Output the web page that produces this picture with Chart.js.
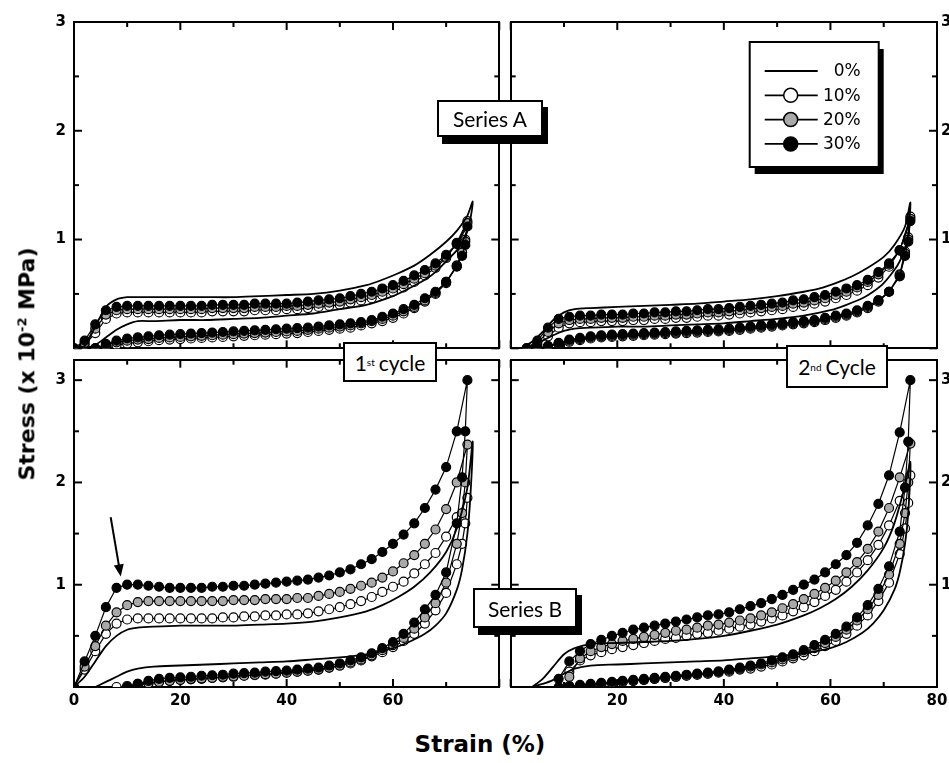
<!DOCTYPE html>
<html>
<head>
<meta charset="utf-8">
<title>Stress vs strain</title>
<script src="https://cdn.jsdelivr.net/npm/chart.js@4.4.1/dist/chart.umd.min.js"></script>
<style>
  body { margin: 0; background: #fff; }
  #page { position: relative; width: 949px; height: 763px; overflow: hidden; background: #fff; }
  #page canvas { position: absolute; }
  .tag { position: absolute; box-sizing: border-box; border: 2px solid #000; background: #fff;
         font: 21px Lato, "Open Sans", sans-serif; color: #000; display: flex; align-items: center; justify-content: center; }
  .tag sup { font-size: 10px; margin-right: 4px; }
  .shadow { box-shadow: 5px 7px 0 #000; }
  .title { position: absolute; white-space: nowrap; font: bold 22px "DejaVu Sans", sans-serif; color: #000; }
  .title sup { font-size: 13px; }
</style>
</head>
<body>
<div id="page">
  <canvas id="a1" width="505" height="354" style="left:0;top:0"></canvas>
  <canvas id="a2" width="444" height="354" style="left:505px;top:0"></canvas>
  <canvas id="b1" width="505" height="366" style="left:0;top:354px"></canvas>
  <canvas id="b2" width="444" height="366" style="left:505px;top:354px"></canvas>

  <div class="tag shadow" style="left:437px;top:100px;width:106px;height:37px">Series A</div>
  <div class="tag" style="left:343px;top:342px;width:94px;height:40px">1<sup>st</sup>cycle</div>
  <div class="tag" style="left:786px;top:345px;width:102px;height:43px">2<sup>nd</sup>Cycle</div>
  <div class="tag shadow" style="left:473px;top:588px;width:104px;height:40px">Series B</div>

  <div class="title" style="left:27px;top:364px;transform:translate(-50%,-50%) rotate(-90deg)">Stress (x 10<sup>-2</sup> MPa)</div>
  <div class="title" style="left:480px;top:744px;transform:translate(-50%,-50%);font-size:23px">Strain (%)</div>
</div>
<script>
// strain grids (%)
const strainUp1 = [0,2,4,6,8,10,12,14,16,18,20,22,24,26,28,30,32,34,36,38,40,42,44,46,48,50,52,54,56,58,60,62,64,66,68,70,72,74];
const strainDn1 = [73.6,73,72,70,68,66,64,62,60,58,56,54,52,50,48,46,44,42,40,38,36,34,32,30,28,26,24,22,20,18,16,14,12,10,8,6,4,2,0];
const strainUp2 = [1,3,5,7,9,11,13,15,17,19,21,23,25,27,29,31,33,35,37,39,41,43,45,47,49,51,53,55,57,59,61,63,65,67,69,71,73,75];
const strainDn2 = [74.6,74,73,71,69,67,65,63,61,59,57,55,53,51,49,47,45,43,41,39,37,35,33,31,29,27,25,23,21,19,17,15,13,11,9,7,5,3,1];
const strain0Up = [0,2,4,6,8,10,12,15,20,25,30,35,40,45,50,55,58,61,64,67,70,72,74,75];
const strain0Dn = [74.6,74,73,72,70,68,66,63,60,55,50,45,40,35,30,25,20,15,12,10,8,6,4,2];

const seriesNames = ["0%", "10%", "20%", "30%"];

const xTicks = [0,10,20,30,40,50,60,70,80];
const yTicks = [0,0.5,1,1.5,2,2.5,3];
const yLabels = [1,2,3];
const xLabelsLeft = [0,20,40,60];
const xLabelsRight = [20,40,60,80];
const xMajor = [0,20,40,60,80];
const yMajor = [0,1,2,3];

// Series A, 1st cycle (stress x 10^-2 MPa)
const a1Up0 = [0,0.02,0.2,0.38,0.45,0.47,0.47,0.47,0.47,0.47,0.47,0.48,0.49,0.5,0.53,0.58,0.63,0.69,0.76,0.86,0.98,1.08,1.22,1.35];
const a1Dn0 = [1.2,1.08,0.98,0.9,0.8,0.7,0.63,0.55,0.48,0.4,0.36,0.32,0.3,0.28,0.27,0.26,0.26,0.25,0.25,0.22,0.17,0.1,0.03,0];
const a1Up10 = [0,0.03,0.14,0.27,0.32,0.33,0.33,0.33,0.33,0.33,
  0.33,0.33,0.33,0.34,0.34,0.34,0.34,0.35,0.35,0.35,
  0.36,0.36,0.37,0.38,0.39,0.4,0.42,0.44,0.46,0.49,
  0.52,0.56,0.61,0.67,0.74,0.83,0.97,1.17];
const a1Dn10 = [1.0,0.88,0.76,0.6,0.5,0.43,0.37,0.32,0.28,0.25,
  0.23,0.21,0.19,0.18,0.17,0.16,0.15,0.14,0.135,0.13,
  0.125,0.12,0.115,0.11,0.105,0.1,0.095,0.09,0.085,0.08,
  0.075,0.065,0.055,0.045,0.03,0.01,0,null,null];
const a1Up20 = [0,0.05,0.18,0.31,0.35,0.36,0.36,0.36,0.36,0.36,
  0.36,0.36,0.36,0.37,0.37,0.37,0.37,0.38,0.38,0.38,
  0.39,0.39,0.4,0.41,0.42,0.43,0.45,0.47,0.49,0.52,
  0.55,0.59,0.64,0.69,0.76,0.84,0.96,1.15];
const a1Dn20 = [0.98,0.88,0.76,0.61,0.51,0.44,0.38,0.34,0.3,0.27,
  0.25,0.23,0.21,0.2,0.19,0.18,0.17,0.16,0.155,0.15,
  0.145,0.14,0.135,0.13,0.125,0.12,0.115,0.11,0.105,0.1,
  0.095,0.085,0.08,0.07,0.055,0.03,0,null,null];
const a1Up30 = [0,0.07,0.22,0.35,0.38,0.39,0.39,0.39,0.39,0.39,
  0.39,0.39,0.39,0.4,0.4,0.4,0.4,0.41,0.41,0.41,
  0.41,0.42,0.43,0.44,0.45,0.46,0.48,0.5,0.52,0.55,
  0.58,0.62,0.67,0.72,0.78,0.86,0.96,1.12];
const a1Dn30 = [0.95,0.85,0.75,0.61,0.52,0.46,0.4,0.36,0.32,0.29,
  0.26,0.24,0.23,0.22,0.21,0.2,0.19,0.185,0.18,0.175,
  0.17,0.165,0.16,0.155,0.15,0.145,0.14,0.135,0.13,0.125,
  0.12,0.11,0.1,0.09,0.07,0.04,0,null,null];

// Series A, 2nd cycle
const a2Up0 = [null,0,0.06,0.15,0.26,0.33,0.36,0.37,0.38,0.39,0.4,0.41,0.43,0.45,0.48,0.52,0.55,0.6,0.66,0.74,0.84,0.95,1.12,1.34];
const a2Dn0 = [1.05,0.92,0.8,0.72,0.6,0.52,0.46,0.4,0.35,0.3,0.27,0.25,0.23,0.22,0.21,0.2,0.2,0.19,0.18,0.16,0.12,0.07,0.02,0];
const a2Up10 = [null,0,0.03,0.11,0.19,0.23,0.24,0.24,0.25,0.25,
  0.25,0.26,0.26,0.27,0.27,0.28,0.28,0.29,0.3,0.3,
  0.31,0.32,0.33,0.34,0.35,0.36,0.38,0.39,0.41,0.43,
  0.46,0.49,0.53,0.58,0.65,0.75,0.9,1.21];
const a2Dn10 = [1.02,0.89,0.68,0.52,0.43,0.37,0.33,0.3,0.28,0.26,
  0.24,0.23,0.22,0.21,0.2,0.19,0.18,0.17,0.16,0.155,
  0.15,0.145,0.14,0.135,0.13,0.125,0.12,0.115,0.11,0.105,
  0.1,0.09,0.075,0.06,0.04,0.015,0,null,null];
const a2Up20 = [null,0,0.05,0.15,0.23,0.26,0.27,0.27,0.28,0.28,
  0.28,0.29,0.29,0.3,0.3,0.31,0.31,0.32,0.33,0.33,
  0.34,0.35,0.36,0.37,0.38,0.39,0.41,0.42,0.44,0.46,
  0.49,0.52,0.56,0.61,0.68,0.77,0.9,1.19];
const a2Dn20 = [1.0,0.87,0.67,0.52,0.44,0.38,0.34,0.31,0.29,0.27,
  0.25,0.24,0.23,0.22,0.21,0.2,0.19,0.18,0.17,0.165,
  0.16,0.155,0.15,0.145,0.14,0.135,0.13,0.125,0.12,0.115,
  0.11,0.1,0.085,0.07,0.045,0.02,0,null,null];
const a2Up30 = [null,0,0.07,0.19,0.27,0.29,0.3,0.3,0.31,0.31,
  0.31,0.32,0.32,0.33,0.33,0.34,0.34,0.35,0.36,0.36,
  0.37,0.38,0.39,0.4,0.41,0.42,0.44,0.45,0.47,0.49,
  0.52,0.55,0.58,0.63,0.7,0.78,0.9,1.17];
const a2Dn30 = [0.98,0.85,0.66,0.52,0.44,0.39,0.35,0.32,0.3,0.28,
  0.26,0.25,0.24,0.23,0.22,0.21,0.2,0.19,0.18,0.175,
  0.17,0.165,0.16,0.155,0.15,0.145,0.14,0.135,0.13,0.125,
  0.12,0.11,0.095,0.08,0.05,0.02,0,null,null];

// Series B, 1st cycle
const b1Up0 = [0,0.1,0.25,0.4,0.5,0.56,0.58,0.59,0.6,0.6,0.6,0.61,0.62,0.64,0.68,0.74,0.8,0.88,0.98,1.12,1.32,1.55,1.95,2.4];
const b1Dn0 = [1.9,1.5,1.15,0.95,0.72,0.6,0.52,0.44,0.38,0.32,0.29,0.27,0.25,0.24,0.23,0.22,0.21,0.2,0.18,0.15,0.1,0.05,0,null];
const b1Up10 = [0,0.17,0.35,0.52,0.62,0.66,0.67,0.67,0.67,0.67,
  0.67,0.67,0.67,0.67,0.68,0.68,0.69,0.69,0.7,0.7,
  0.71,0.71,0.72,0.74,0.76,0.78,0.81,0.84,0.88,0.93,
  0.98,1.03,1.11,1.2,1.31,1.47,1.66,1.85];
const b1Dn10 = [1.6,1.4,1.2,0.92,0.75,0.62,0.52,0.45,0.39,0.34,
  0.3,0.26,0.23,0.21,0.19,0.17,0.16,0.15,0.14,0.13,
  0.12,0.115,0.11,0.1,0.095,0.09,0.08,0.075,0.07,0.06,
  0.05,0.04,0.03,0.01,0,null,null,null,null];
const b1Up20 = [0,0.2,0.4,0.6,0.73,0.8,0.83,0.84,0.84,0.84,
  0.84,0.84,0.84,0.84,0.84,0.85,0.85,0.85,0.86,0.86,
  0.86,0.87,0.87,0.89,0.91,0.93,0.96,0.99,1.02,1.07,
  1.13,1.21,1.29,1.4,1.54,1.74,2.0,2.37];
const b1Dn20 = [2.0,1.7,1.4,1.02,0.82,0.68,0.57,0.48,0.41,0.36,
  0.31,0.27,0.24,0.21,0.19,0.17,0.16,0.15,0.14,0.13,
  0.125,0.12,0.11,0.105,0.1,0.09,0.085,0.08,0.07,0.06,
  0.05,0.035,0.015,0,null,null,null,null,null];
const b1Up30 = [0,0.25,0.5,0.78,0.97,1.0,1.0,0.99,0.98,0.97,
  0.97,0.97,0.97,0.98,0.98,0.99,0.99,1.0,1.01,1.02,
  1.03,1.04,1.05,1.07,1.09,1.12,1.15,1.2,1.25,1.32,
  1.4,1.49,1.6,1.75,1.93,2.15,2.5,3.0];
const b1Dn30 = [2.5,2.05,1.6,1.12,0.9,0.76,0.63,0.52,0.44,0.38,
  0.33,0.29,0.26,0.23,0.21,0.19,0.18,0.17,0.16,0.155,
  0.15,0.14,0.135,0.13,0.12,0.115,0.11,0.1,0.095,0.09,
  0.08,0.06,0.03,0,null,null,null,null,null];

// Series B, 2nd cycle
const b2Up0 = [null,null,0,0.08,0.2,0.32,0.38,0.42,0.43,0.44,0.45,0.47,0.5,0.55,0.61,0.7,0.77,0.86,0.98,1.14,1.36,1.6,1.97,2.2];
const b2Dn0 = [1.7,1.4,1.12,0.95,0.75,0.62,0.53,0.44,0.38,0.33,0.3,0.28,0.26,0.25,0.24,0.23,0.22,0.21,0.18,0.13,0.07,0.03,0,null];
const b2Up10 = [null,null,null,null,null,0.15,0.26,0.31,0.34,0.37,
  0.39,0.41,0.43,0.45,0.47,0.48,0.5,0.52,0.53,0.55,
  0.57,0.59,0.61,0.64,0.67,0.7,0.74,0.78,0.83,0.89,
  0.95,1.03,1.12,1.24,1.39,1.58,1.82,2.07];
const b2Dn10 = [1.8,1.55,1.3,1.02,0.84,0.7,0.6,0.52,0.45,0.4,
  0.35,0.31,0.28,0.25,0.22,0.2,0.18,0.17,0.15,0.14,
  0.13,0.12,0.11,0.1,0.09,0.08,0.07,0.06,0.05,0.04,
  0.03,0.02,0.01,0,null,null,null,null,null];
const b2Up20 = [null,null,null,null,null,0.1,0.28,0.35,0.39,0.42,
  0.45,0.47,0.49,0.51,0.53,0.55,0.56,0.58,0.6,0.61,
  0.63,0.65,0.67,0.7,0.73,0.77,0.81,0.86,0.91,0.97,
  1.04,1.12,1.22,1.35,1.52,1.75,2.05,2.38];
const b2Dn20 = [2.0,1.7,1.4,1.1,0.9,0.76,0.65,0.56,0.49,0.43,
  0.38,0.34,0.3,0.27,0.24,0.22,0.2,0.18,0.16,0.15,
  0.13,0.12,0.11,0.1,0.09,0.08,0.07,0.06,0.05,0.04,
  0.03,0.02,0.01,0,null,null,null,null,null];
const b2Up30 = [null,null,null,null,0.08,0.25,0.35,0.42,0.46,0.5,
  0.53,0.56,0.58,0.6,0.62,0.64,0.66,0.68,0.7,0.71,
  0.73,0.76,0.79,0.82,0.86,0.9,0.95,1.0,1.05,1.12,
  1.2,1.29,1.41,1.58,1.79,2.07,2.49,3.0];
const b2Dn30 = [2.4,1.95,1.52,1.18,0.96,0.8,0.68,0.59,0.52,0.46,
  0.41,0.36,0.32,0.29,0.26,0.23,0.21,0.19,0.17,0.15,
  0.14,0.13,0.12,0.11,0.1,0.09,0.08,0.07,0.06,0.05,
  0.04,0.03,0.02,0.01,0,null,null,null,null];

// arrow in the Series B 1st cycle panel (strain, stress)
const arrowFrom = [6.9, 1.66];
const arrowTo = [8.8, 1.08];

const tickFont = { family: "DejaVu Sans", size: 15, weight: "bold" };

// join loading and unloading branch into one loop
function loop(upX, up, dnX, dn) {
  const pts = [];
  up.forEach((v, i) => { if (v !== null) pts.push({ x: upX[i], y: v }); });
  dn.forEach((v, i) => { if (v !== null) pts.push({ x: dnX[i], y: v }); });
  return pts;
}

function markerSet(label, fill, order, pts) {
  return {
    label, data: pts, order,
    borderColor: "#000", borderWidth: 1.2, tension: 0,
    pointRadius: 4.5, pointBorderWidth: 1.2,
    pointBackgroundColor: fill, pointBorderColor: "#000"
  };
}

function datasets(cyc, s) {
  const upX = cyc === 1 ? strainUp1 : strainUp2;
  const dnX = cyc === 1 ? strainDn1 : strainDn2;
  return [
    { label: seriesNames[0], data: loop(strain0Up, s[0], strain0Dn, s[1]), order: 0,
      borderColor: "#000", borderWidth: 1.8, tension: 0.25, pointRadius: 0 },
    markerSet(seriesNames[1], "#fff", 3, loop(upX, s[2], dnX, s[3])),
    markerSet(seriesNames[2], "#a9a9a9", 2, loop(upX, s[4], dnX, s[5])),
    markerSet(seriesNames[3], "#000", 1, loop(upX, s[6], dnX, s[7]))
  ];
}

function axis(position, min, max, ticks, shown, size, pad) {
  const horiz = position === "top" || position === "bottom";
  return {
    type: "linear", position, min, max,
    afterBuildTicks: s => { s.ticks = ticks.map(v => ({ value: v })); },
    afterFit: s => {
      if (horiz) s.height = size; else s.width = size;
      s.paddingLeft = s.paddingRight = s.paddingTop = s.paddingBottom = 0;
    },
    grid: { display: false, drawTicks: false },
    border: { display: true, color: "#000", width: 2 },
    ticks: {
      display: shown.length > 0, autoSkip: false, maxRotation: 0, padding: pad,
      color: "#000", font: tickFont,
      callback: v => shown.includes(v) ? String(v) : ""
    }
  };
}

// tick marks pointing into the plot on all four sides
const innerTicks = {
  id: "innerTicks",
  beforeDatasetsDraw(chart) {
    const ctx = chart.ctx;
    ctx.save();
    ctx.strokeStyle = "#000";
    ctx.lineWidth = 2;
    Object.values(chart.scales).forEach(s => {
      const major = s.isHorizontal() ? xMajor : yMajor;
      s.ticks.forEach(t => {
        const p = s.getPixelForValue(t.value);
        const len = major.includes(t.value) ? 8 : 5;
        ctx.beginPath();
        if (s.position === "left") { ctx.moveTo(s.right, p); ctx.lineTo(s.right + len, p); }
        else if (s.position === "right") { ctx.moveTo(s.left, p); ctx.lineTo(s.left - len, p); }
        else if (s.position === "bottom") { ctx.moveTo(p, s.top); ctx.lineTo(p, s.top - len); }
        else { ctx.moveTo(p, s.bottom); ctx.lineTo(p, s.bottom + len); }
        ctx.stroke();
      });
    });
    ctx.restore();
  }
};

const legendPlugin = {
  id: "boxLegend",
  afterDraw(chart) {
    const { ctx, chartArea } = chart;
    const bx = chartArea.left + 239, by = chartArea.top + 20, w = 129, h = 125;
    ctx.save();
    ctx.fillStyle = "#000";
    ctx.fillRect(bx + 5, by + 7, w, h);
    ctx.fillStyle = "#fff";
    ctx.fillRect(bx, by, w, h);
    ctx.strokeStyle = "#000";
    ctx.lineWidth = 2;
    ctx.strokeRect(bx, by, w, h);
    chart.data.datasets.forEach((ds, i) => {
      const y = by + 29 + i * 24.3;
      ctx.strokeStyle = "#000";
      ctx.lineWidth = 1.8;
      ctx.beginPath(); ctx.moveTo(bx + 15, y); ctx.lineTo(bx + 68, y); ctx.stroke();
      if (ds.pointRadius > 0) {
        ctx.beginPath(); ctx.arc(bx + 41, y, 7, 0, Math.PI * 2);
        ctx.fillStyle = ds.pointBackgroundColor; ctx.fill();
        ctx.lineWidth = 1.5; ctx.stroke();
      }
      ctx.fillStyle = "#000";
      ctx.font = '17px "DejaVu Sans"';
      ctx.textAlign = "right";
      ctx.textBaseline = "middle";
      ctx.fillText(ds.label, bx + 111, y + 1);
    });
    ctx.restore();
  }
};

const arrowPlugin = {
  id: "arrow",
  afterDatasetsDraw(chart) {
    const { ctx, scales } = chart;
    const x0 = scales.x.getPixelForValue(arrowFrom[0]), y0 = scales.y.getPixelForValue(arrowFrom[1]);
    const x1 = scales.x.getPixelForValue(arrowTo[0]), y1 = scales.y.getPixelForValue(arrowTo[1]);
    const a = Math.atan2(y1 - y0, x1 - x0);
    ctx.save();
    ctx.strokeStyle = "#000"; ctx.fillStyle = "#000"; ctx.lineWidth = 2;
    ctx.beginPath(); ctx.moveTo(x0, y0);
    ctx.lineTo(x1 - 9 * Math.cos(a), y1 - 9 * Math.sin(a)); ctx.stroke();
    ctx.beginPath(); ctx.moveTo(x1, y1);
    ctx.lineTo(x1 - 12 * Math.cos(a) + 5 * Math.sin(a), y1 - 12 * Math.sin(a) - 5 * Math.cos(a));
    ctx.lineTo(x1 - 12 * Math.cos(a) - 5 * Math.sin(a), y1 - 12 * Math.sin(a) + 5 * Math.cos(a));
    ctx.closePath(); ctx.fill();
    ctx.restore();
  }
};

function panel(id, cyc, series, o) {
  return new Chart(document.getElementById(id), {
    type: "line",
    data: { datasets: datasets(cyc, series) },
    options: {
      responsive: false, animation: false, events: [],
      layout: { padding: o.pad },
      plugins: { legend: { display: false }, tooltip: { enabled: false } },
      scales: {
        x: axis("bottom", 0, 80, xTicks, o.xLab, o.xh, 5),
        x2: axis("top", 0, 80, xTicks, [], 0, 0),
        y: axis("left", 0, o.ymax, yTicks, o.leftLab, o.lw, 8),
        y2: axis("right", 0, o.ymax, yTicks, o.rightLab, o.rw, 4)
      }
    },
    plugins: [innerTicks].concat(o.plugins || [])
  });
}

panel("a1", 1, [a1Up0, a1Dn0, a1Up10, a1Dn10, a1Up20, a1Dn20, a1Up30, a1Dn30],
  { pad: { top: 22, right: 3 }, ymax: 3, xLab: [], xh: 2, leftLab: yLabels, lw: 74, rightLab: [], rw: 0 });
panel("a2", 2, [a2Up0, a2Dn0, a2Up10, a2Dn10, a2Up20, a2Dn20, a2Up30, a2Dn30],
  { pad: { top: 22, left: 3 }, ymax: 3, xLab: [], xh: 2, leftLab: [], lw: 0, rightLab: yLabels, rw: 12,
    plugins: [legendPlugin] });
panel("b1", 1, [b1Up0, b1Dn0, b1Up10, b1Dn10, b1Up20, b1Dn20, b1Up30, b1Dn30],
  { pad: { top: 3, right: 3 }, ymax: 3.2, xLab: xLabelsLeft, xh: 33, leftLab: yLabels, lw: 74, rightLab: [], rw: 0,
    plugins: [arrowPlugin] });
panel("b2", 2, [b2Up0, b2Dn0, b2Up10, b2Dn10, b2Up20, b2Dn20, b2Up30, b2Dn30],
  { pad: { top: 3, left: 3 }, ymax: 3.2, xLab: xLabelsRight, xh: 33, leftLab: [], lw: 0, rightLab: yLabels, rw: 12 });
</script>
</body>
</html>
